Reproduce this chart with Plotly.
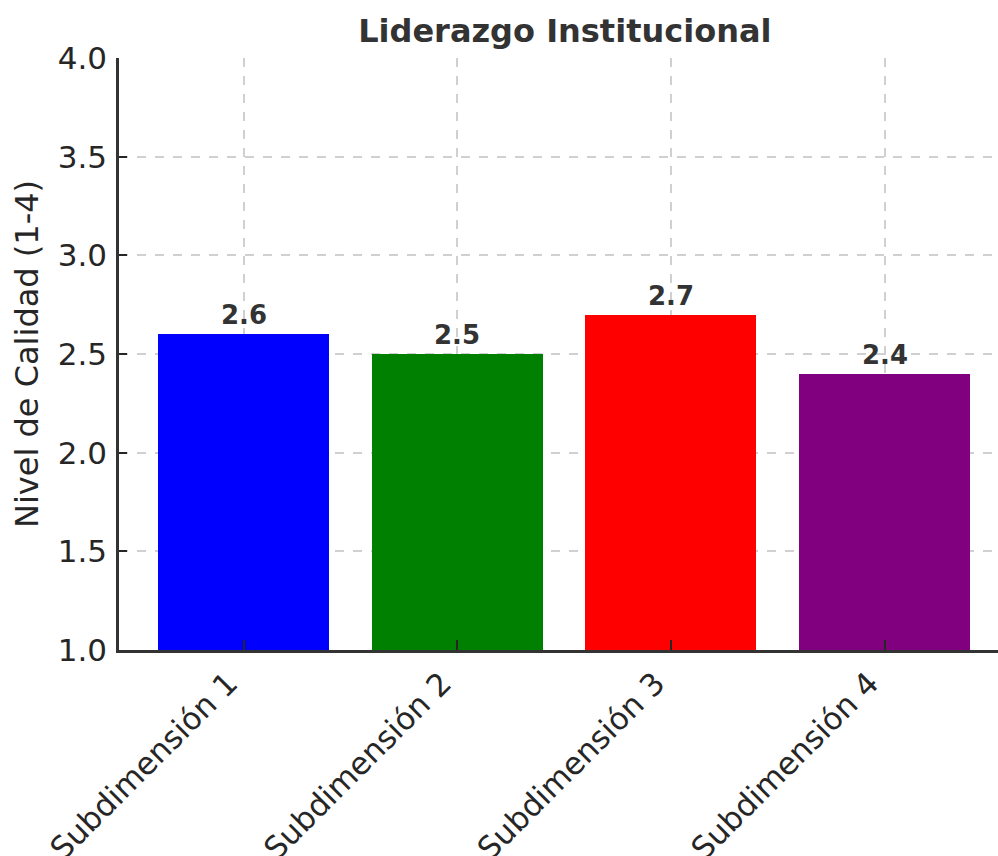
import plotly.graph_objects as go

categories = ["Subdimensión 1", "Subdimensión 2", "Subdimensión 3", "Subdimensión 4"]
values = [2.6, 2.5, 2.7, 2.4]
colors = ["blue", "green", "red", "purple"]
y_ticks = [1.0, 1.5, 2.0, 2.5, 3.0, 3.5, 4.0]
y_tick_labels = ["1.0", "1.5", "2.0", "2.5", "3.0", "3.5", "4.0"]
title = "Liderazgo Institucional"
y_title = "Nivel de Calidad (1-4)"

FONT = "DejaVu Sans"
W, H = 998, 856
ML, MR, MT, MB = 119, 0, 58, 206

fig = go.Figure()
fig.add_trace(go.Bar(
    x=list(range(len(categories))),
    y=values,
    base=0,
    width=0.8,
    marker=dict(color=colors, line=dict(width=0)),
    hoverinfo="skip",
))

for i, v in enumerate(values):
    fig.add_annotation(
        x=i, y=v, xref="x", yref="y", text=f"{v}",
        showarrow=False, yanchor="bottom", yshift=2,
        font=dict(family=FONT, size=26, color="#333333", weight="bold"),
    )

fig.update_layout(
    width=W, height=H,
    margin=dict(l=ML, r=MR, t=MT, b=MB, pad=0, autoexpand=False),
    plot_bgcolor="white", paper_bgcolor="white",
    showlegend=False,
    bargap=0,
    font=dict(family=FONT, color="#262626"),
    title=dict(
        text=title, x=(ML + (ML + 891.6)) / 2 / W, xanchor="center", xref="container",
        y=1 - 31 / H, yanchor="middle", yref="container", automargin=False,
        font=dict(family=FONT, size=32, color="#333333", weight="bold"),
    ),
)

fig.update_xaxes(
    range=[-0.5827, 3.531],
    tickmode="array",
    tickvals=list(range(len(categories))),
    ticktext=categories,
    tickangle=-45,
    tickfont=dict(family=FONT, size=31, color="#262626"),
    showline=True, linecolor="#333333", linewidth=2.5,
    ticks="inside", ticklen=10, tickwidth=2, tickcolor="#262626",
    showgrid=True, gridcolor="rgba(176,176,176,0.6)", gridwidth=1.5, griddash="dash",
    zeroline=False,
    layer="above traces",
    ticklabelstandoff=0,
    ticklabelshift=-15,
    automargin=False,
)

fig.update_yaxes(
    range=[1.0, 4.0],
    tickmode="array",
    tickvals=y_ticks,
    ticktext=y_tick_labels,
    tickfont=dict(family=FONT, size=31, color="#262626"),
    showline=True, linecolor="#333333", linewidth=2.5,
    ticks="inside", ticklen=8, tickwidth=2, tickcolor="#262626",
    showgrid=True, gridcolor="rgba(176,176,176,0.6)", gridwidth=1.5, griddash="dash",
    zeroline=False,
    layer="above traces",
    ticklabelstandoff=3,
    automargin=False,
    title=dict(text=y_title, font=dict(family=FONT, size=32, color="#262626"), standoff=10),
)

fig.write_html(
    "out.html",
    config={"displayModeBar": False},
    post_script="document.body.style.margin='0';document.body.style.overflow='hidden';",
)
